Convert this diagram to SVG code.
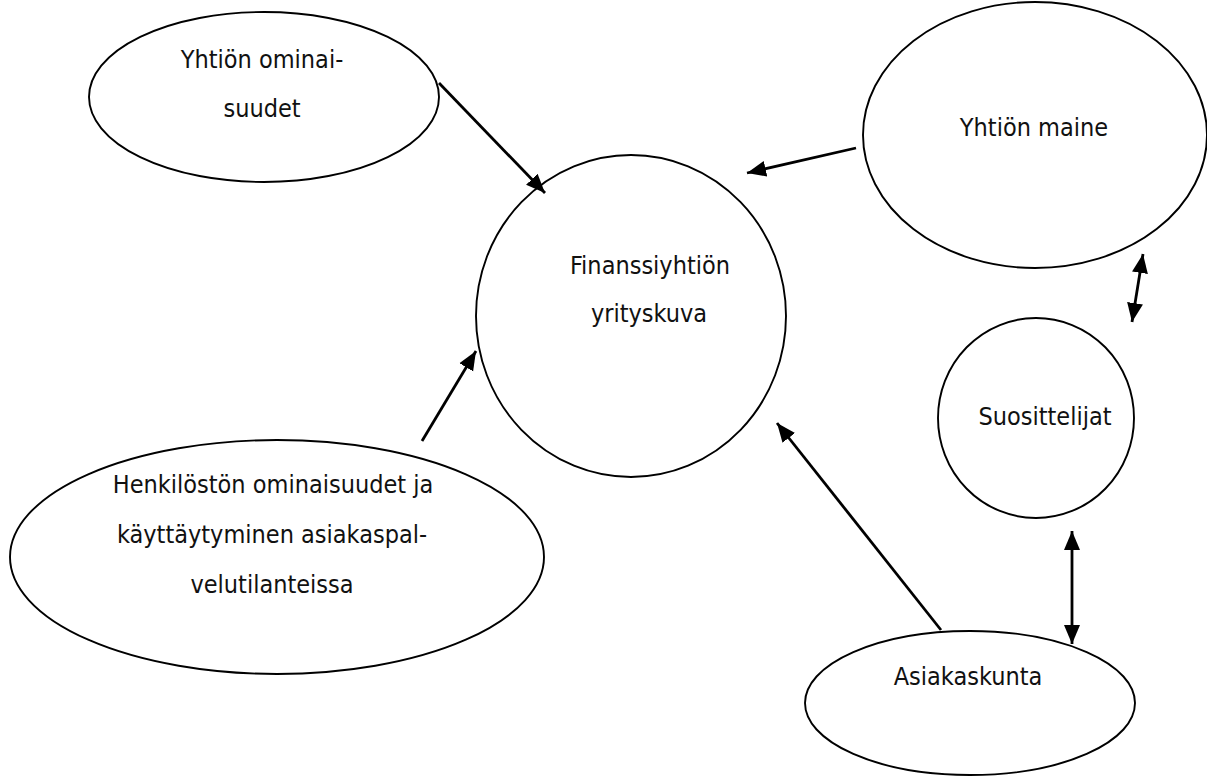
<svg xmlns="http://www.w3.org/2000/svg" width="1207" height="778" viewBox="0 0 1207 778">
  <style>
    .node ellipse { fill: #ffffff; stroke: #000000; stroke-width: 1.9; }
    .node text { font-family: "DejaVu Sans Condensed", "DejaVu Sans", sans-serif; font-stretch: condensed; font-size: 25px; fill: #111111; text-anchor: middle; }
    .edge { stroke: #000000; stroke-width: 2.8; fill: none; }
  </style>
  <defs>
    <marker id="arrow" markerUnits="userSpaceOnUse" markerWidth="20" markerHeight="18" refX="19" refY="9" orient="auto-start-reverse">
      <path d="M0,1 L19,9 L0,17 z" fill="#000000"/>
    </marker>
  </defs>

  <rect width="1207" height="778" fill="#ffffff"/>

  <g id="node-yhtion-ominaisuudet" class="node">
    <ellipse cx="264" cy="97" rx="175" ry="85"/>
    <text x="262" y="68">Yhtiön ominai-</text>
    <text x="262" y="117">suudet</text>
  </g>

  <g id="node-yrityskuva" class="node">
    <ellipse cx="631" cy="316" rx="155" ry="161"/>
    <text x="650" y="274">Finanssiyhtiön</text>
    <text x="649" y="322">yrityskuva</text>
  </g>

  <g id="node-yhtion-maine" class="node">
    <ellipse cx="1035" cy="135" rx="172" ry="133"/>
    <text x="1034" y="136">Yhtiön maine</text>
  </g>

  <g id="node-suosittelijat" class="node">
    <ellipse cx="1036" cy="418" rx="98" ry="100"/>
    <text x="1045" y="425">Suosittelijat</text>
  </g>

  <g id="node-henkilosto" class="node">
    <ellipse cx="277" cy="557" rx="267" ry="117"/>
    <text x="273" y="493">Henkilöstön ominaisuudet ja</text>
    <text x="272" y="543">käyttäytyminen asiakaspal-</text>
    <text x="272" y="593">velutilanteissa</text>
  </g>

  <g id="node-asiakaskunta" class="node">
    <ellipse cx="970" cy="703" rx="165" ry="72"/>
    <text x="968" y="685">Asiakaskunta</text>
  </g>

  <g id="connectors">
    <line class="edge" x1="439" y1="83" x2="545" y2="193" marker-end="url(#arrow)"/>
    <line class="edge" x1="856" y1="148" x2="747" y2="173" marker-end="url(#arrow)"/>
    <line class="edge" x1="422" y1="441" x2="476" y2="351" marker-end="url(#arrow)"/>
    <line class="edge" x1="941" y1="630" x2="777" y2="423" marker-end="url(#arrow)"/>
    <line class="edge" x1="1132" y1="322" x2="1143" y2="254" marker-start="url(#arrow)" marker-end="url(#arrow)"/>
    <line class="edge" x1="1072" y1="531" x2="1072" y2="644" marker-start="url(#arrow)" marker-end="url(#arrow)"/>
  </g>
</svg>
